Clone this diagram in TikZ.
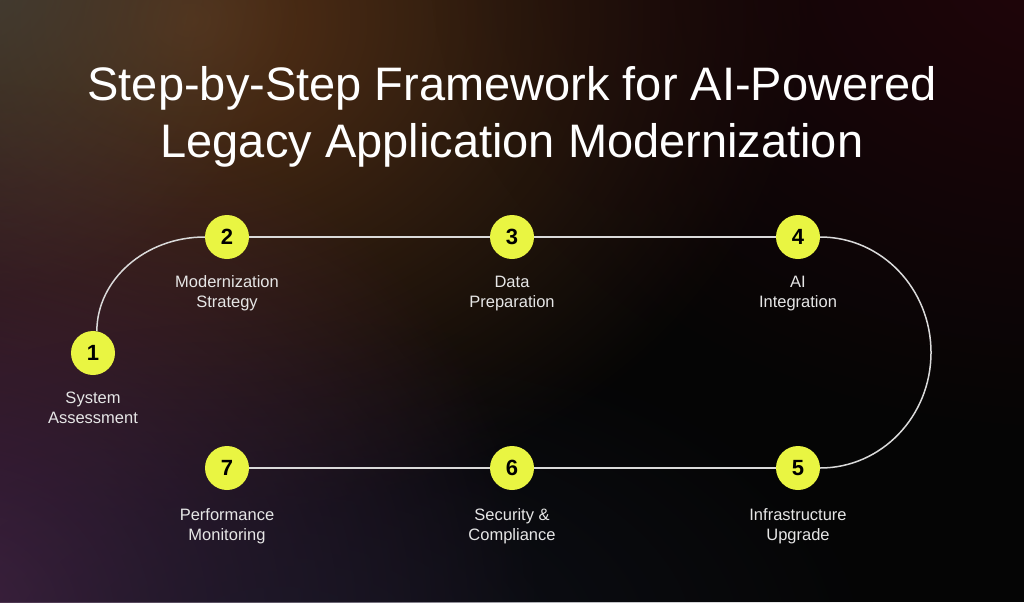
\documentclass[tikz,border=0pt]{standalone}
\usepackage{fontspec}
\setmainfont{Liberation Sans}
\usetikzlibrary{fadings}
\pgfdeclarelayer{bg}
\pgfdeclarelayer{background}
\pgfsetlayers{bg,background,main}
\definecolor{bgbase}{HTML}{050505}
\definecolor{glowbrown}{HTML}{5A3418}
\definecolor{glowgrey}{HTML}{45443C}
\definecolor{glowpurple}{HTML}{50264A}
\definecolor{glowred}{HTML}{22060A}
\definecolor{glownavy}{HTML}{161A2A}
\definecolor{stepyellow}{HTML}{E9F542}
\definecolor{linegray}{HTML}{DADADA}
\definecolor{labelgray}{HTML}{E6E6E6}
\tikzfading[name=glowfade, inner color=transparent!0, outer color=transparent!100]
\begin{document}
\begin{tikzpicture}[x=1pt,y=-1pt,
  stepdot/.style={circle, fill=stepyellow, minimum size=44pt, inner sep=0pt,
    font=\fontsize{22}{22}\selectfont\bfseries, text=black},
  steplabel/.style={align=center, font=\fontsize{16.5}{20}\selectfont,
    text=labelgray, anchor=base, inner sep=0pt},
  link/.style={draw=linegray, line width=1.5pt},
  glow/.style={path fading=glowfade, fill=#1}]
\useasboundingbox (0,0) rectangle (1024,602);
\begin{pgfonlayer}{bg}
  \clip (0,0) rectangle (1024,602);
  \fill[bgbase] (0,0) rectangle (1024,602);
  \fill[glow=glowbrown, fill opacity=0.95] (190,20) ellipse [x radius=620, y radius=500];
  \fill[glow=glowgrey, fill opacity=0.8] (-30,-30) circle [radius=330];
  \fill[glow=glowpurple, fill opacity=0.95] (-40,620) ellipse [x radius=580, y radius=540];
  \fill[glow=glowred, fill opacity=1] (1070,-40) ellipse [x radius=640, y radius=480];
  \fill[glow=glownavy, fill opacity=0.6] (280,640) ellipse [x radius=600, y radius=320];
\end{pgfonlayer}

\node[font=\fontsize{47}{57}\selectfont, text=white, align=center, anchor=base, inner sep=0pt]
  (title) at (512,157) {Step-by-Step Framework for AI-Powered\\Legacy Application Modernization};

\node[stepdot] (n1) at (93,353) {1};
\node[stepdot] (n2) at (227,237) {2};
\node[stepdot] (n3) at (512,237) {3};
\node[stepdot] (n4) at (798,237) {4};
\node[stepdot] (n5) at (798,468) {5};
\node[stepdot] (n6) at (512,468) {6};
\node[stepdot] (n7) at (227,468) {7};
\coordinate (rc) at (931,352.5);

\node[steplabel] (l1) at (93,423) {System\\Assessment};
\node[steplabel] (l2) at (227,307) {Modernization\\Strategy};
\node[steplabel] (l3) at (512,307) {Data\\Preparation};
\node[steplabel] (l4) at (798,307) {AI\\Integration};
\node[steplabel] (l5) at (798,540) {Infrastructure\\Upgrade};
\node[steplabel] (l6) at (512,540) {Security \&\\Compliance};
\node[steplabel] (l7) at (227,540) {Performance\\Monitoring};

\begin{pgfonlayer}{background}
  \draw[link] (n1.80) .. controls +(0,-51) and +(-60,0) .. (n2.west);
  \draw[link] (n2) -- (n3);
  \draw[link] (n3) -- (n4);
  \draw[link] (n4.east) .. controls +(61,0) and +(0,-64) .. (rc)
              .. controls +(0,64) and +(61,0) .. (n5.east);
  \draw[link] (n5) -- (n6);
  \draw[link] (n6) -- (n7);
\end{pgfonlayer}
\end{tikzpicture}
\end{document}
